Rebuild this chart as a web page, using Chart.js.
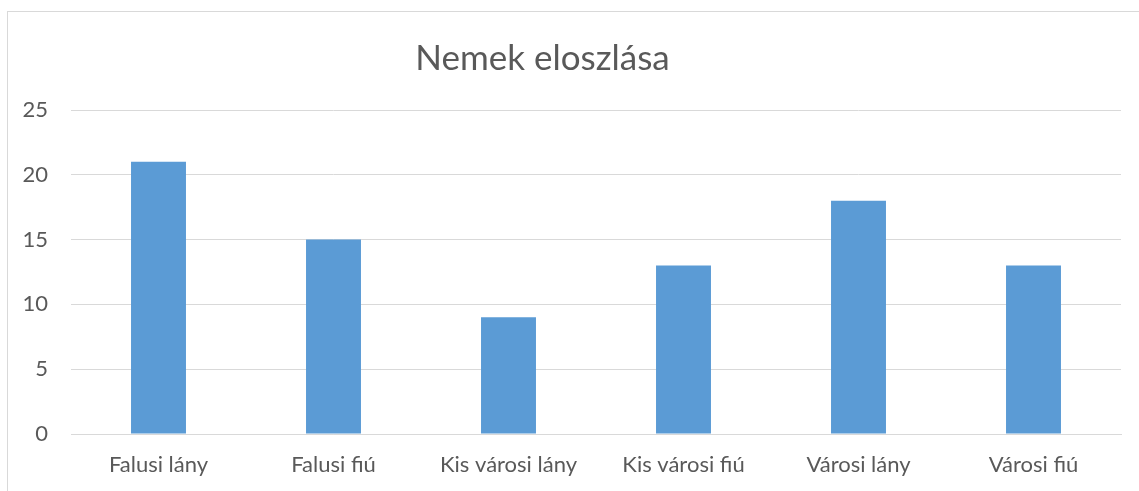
<!DOCTYPE html>
<html>
<head>
<meta charset="utf-8">
<script src="https://cdn.jsdelivr.net/npm/chart.js@4.4.0/dist/chart.umd.min.js"></script>
<style>
    html, body { margin: 0; padding: 0; background: #ffffff; }
    #wrap { position: relative; width: 1139px; height: 491px; }
    #frame { position: absolute; left: 7px; top: 11px; width: 1140px; height: 490px; border: 1px solid #d9d9d9; box-sizing: border-box; }
    #chart { position: absolute; left: 0; top: 0; }
</style>
</head>
<body>
<div id="wrap">
    <div id="frame"></div>
    <canvas id="chart" width="1139" height="491"></canvas>
</div>
<script>
var chartTitle = "Nemek eloszlása";
var categories = ["Falusi lány", "Falusi fiú", "Kis városi lány", "Kis városi fiú", "Városi lány", "Városi fiú"];
var values = [21, 15, 9, 13, 18, 13];
var yTicks = [0, 5, 10, 15, 20, 25];

var textColor = "#595959";
var gridColor = "#d9d9d9";
var barColor = "#5b9bd5";
var fontFamily = "Lato, 'Open Sans', sans-serif";

// the title sits a bit left of the plot centre, like in the original
var shiftTitle = {
    id: 'shiftTitle',
    afterLayout: function (chart) {
        if (chart.titleBlock) {
            chart.titleBlock.left -= 18;
            chart.titleBlock.right -= 18;
        }
    }
};

var ctx = document.getElementById("chart");
var chart = new Chart(ctx, {
    type: 'bar',
    data: {
        labels: categories,
        datasets: [{
            label: chartTitle,
            data: values,
            backgroundColor: barColor,
            borderWidth: 0,
            categoryPercentage: 1,
            barPercentage: 0.314
        }]
    },
    plugins: [shiftTitle],
    options: {
        responsive: false,
        animation: false,
        layout: {
            padding: { left: 0, right: 18, top: 38, bottom: 0 }
        },
        plugins: {
            legend: { display: false },
            tooltip: { enabled: false },
            title: {
                display: true,
                text: chartTitle,
                color: textColor,
                font: { family: fontFamily, size: 35, weight: 'normal' },
                padding: { top: 0, bottom: 30 }
            }
        },
        scales: {
            x: {
                grid: { display: false, drawTicks: false },
                border: { color: gridColor, width: 1 },
                ticks: {
                    color: textColor,
                    font: { family: fontFamily, size: 22 },
                    padding: 18,
                    maxRotation: 0
                },
                afterFit: function (scale) {
                    scale.height = 57;
                }
            },
            y: {
                min: yTicks[0],
                max: yTicks[yTicks.length - 1],
                grid: { color: gridColor, drawTicks: false },
                border: { display: false },
                ticks: {
                    stepSize: 5,
                    color: textColor,
                    font: { family: fontFamily, size: 22 },
                    padding: 23
                },
                afterFit: function (scale) {
                    scale.width = 71;
                }
            }
        }
    }
});
</script>
</body>
</html>
